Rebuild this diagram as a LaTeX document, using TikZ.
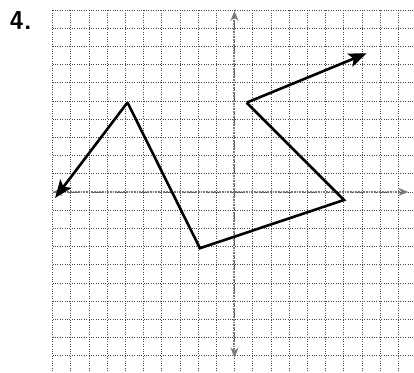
\documentclass[tikz,border=0pt]{standalone}
\usepackage{tikz}
\usetikzlibrary{arrows.meta}
\definecolor{cInk}{HTML}{000000}
\definecolor{cGrid}{HTML}{4A4A4A}
\definecolor{cAxis}{HTML}{7A7A7A}
\tikzset{
  >=Stealth,
  gridline/.style={cGrid,line width=0.7pt,dash pattern=on 0.9pt off 1.5pt},
  axisline/.style={cAxis,line width=2pt,dash pattern=on 0.8pt off 0.8pt,
                   {Stealth[open,length=10pt,width=8pt]}-{Stealth[open,length=10pt,width=8pt]}},
  seg/.style={cInk,line width=2.6pt,line join=miter},
  tip/.style={-{Stealth[length=18pt,width=14pt,inset=4pt]}},
  numlbl/.style={font=\sffamily\bfseries\fontsize{26}{26}\selectfont,inner sep=0pt},
}
\begin{document}
\begin{tikzpicture}[x=18.2pt,y=18.2pt]
\useasboundingbox (-12.885,-9.945) rectangle (9.863,10.549);
\clip (-12.885,-9.945) rectangle (9.863,10.549);
% grid
\foreach \k in {-10,...,9} \draw[gridline] (\k,-10.5) -- (\k,10);
\foreach \k in {-10,...,10} \draw[gridline] (-10,\k) -- (10,\k);
% axes
\draw[axisline] (-10,0) -- (9.55,0);
\draw[axisline] (0,-9.1) -- (0,9.95);
% vertices
\coordinate (lt) at (-9.86,-0.33);
\coordinate (ap) at (-5.88,4.92);
\coordinate (bt) at (-1.90,-3.09);
\coordinate (rt) at (6.02,-0.44);
\coordinate (ur) at (0.67,4.91);
\coordinate (tr) at (7.26,7.62);
\draw[seg] (ap) -- (bt) -- (rt) -- (ur);
\draw[seg,tip] (ap) -- (lt);
\draw[seg,tip] (ur) -- (tr);
\node[numlbl] (num) at (-11.75,9.45) {4.};
\end{tikzpicture}
\end{document}
